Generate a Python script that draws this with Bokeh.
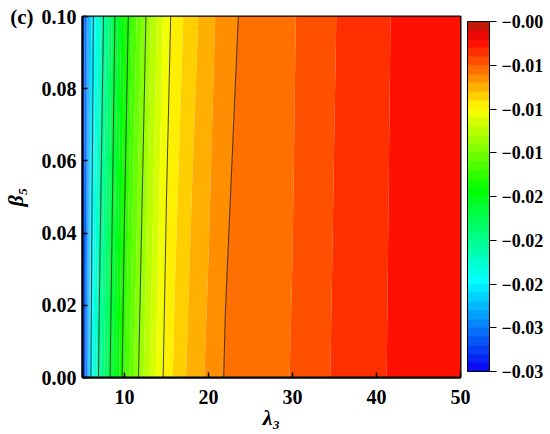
import numpy as np
from bokeh.plotting import figure
from bokeh.models import ColorBar, LinearColorMapper, FixedTicker, LinearAxis, Range1d
from bokeh.embed import file_html
from bokeh.resources import INLINE

# ---- data ----
lambda3 = [5.0, 5.5, 6.0, 6.5, 7.0, 7.5, 8.0, 9.0, 10.0, 11.0, 12.0, 13.0, 14.0, 15.0,
           16.0, 18.0, 20.0, 22.0, 24.0, 26.0, 28.0, 30.0, 33.0, 36.0, 40.0, 45.0, 50.0]
beta5 = [0.0, 0.1]
z_beta_0 = [-0.02860, -0.02664, -0.02300, -0.02132, -0.01992, -0.01894, -0.01796, -0.01600,
            -0.01404, -0.01264, -0.01138, -0.01040, -0.00942, -0.00872, -0.00816, -0.00732,
            -0.00676, -0.00614, -0.00598, -0.00581, -0.00564, -0.00547, -0.00500, -0.00460,
            -0.00418, -0.00385, -0.00354]
z_beta_01 = [-0.02776, -0.02636, -0.02384, -0.02244, -0.02132, -0.02020, -0.01908, -0.01712,
             -0.01530, -0.01376, -0.01250, -0.01124, -0.01026, -0.00928, -0.00872, -0.00788,
             -0.00718, -0.00648, -0.00612, -0.00592, -0.00572, -0.00556, -0.00511, -0.00469,
             -0.00421, -0.00388, -0.00362]
cbar_low, cbar_high = -0.030, -0.002
cbar_ticks = [-0.030, -0.0265, -0.023, -0.0195, -0.016, -0.0125, -0.009, -0.0055, -0.002]
cbar_labels = ["\u22120.03", "\u22120.03", "\u22120.02", "\u22120.02", "\u22120.02",
               "\u22120.01", "\u22120.01", "\u22120.01", "\u22120.00"]
x_ticks = [10, 20, 30, 40, 50]
y_ticks = [0.00, 0.02, 0.04, 0.06, 0.08, 0.10]
y_labels = ["0.00", "0.02", "0.04", "0.06", "0.08", "0.10"]
panel_tag = "(c)"

# ---- palette (Origin-like rainbow, 40 steps) ----
n_bands = 40
anchors = [(0.0, (10, 0, 245)), (0.26, (0, 255, 255)), (0.52, (0, 255, 0)),
           (0.75, (255, 255, 0)), (0.95, (255, 0, 0)), (1.0, (175, 35, 10))]
def col(f):
    for (f0, c0), (f1, c1) in zip(anchors[:-1], anchors[1:]):
        if f <= f1:
            t = (f - f0) / (f1 - f0)
            return "#%02x%02x%02x" % tuple(int(round(a + (b - a) * t)) for a, b in zip(c0, c1))
    return "#%02x%02x%02x" % anchors[-1][1]
palette = [col((i + 0.5) / n_bands) for i in range(n_bands)]
fill_levels = list(np.linspace(cbar_low, cbar_high, n_bands + 1))
line_levels = fill_levels[10:35:4]

FONT = "Liberation Serif"

p = figure(width=550, height=434, x_range=Range1d(5, 50), y_range=Range1d(0, 0.1),
           output_backend="svg", toolbar_location=None,
           min_border_left=82, min_border_right=90, min_border_top=16, min_border_bottom=57)
p.grid.visible = False
p.background_fill_color = "white"

z = np.array([z_beta_0, z_beta_01])
p.contour(lambda3, beta5, z, levels=fill_levels, fill_color=palette, line_color=None)
p.contour(lambda3, beta5, z, levels=line_levels, line_color="#151515", line_width=0.8)

p.outline_line_color = "black"
p.outline_line_width = 2
for ax in (p.xaxis[0], p.yaxis[0]):
    ax.axis_line_width = 2
    ax.major_tick_in = 5
    ax.major_tick_out = 0
    ax.minor_tick_line_color = None
    ax.major_tick_line_width = 1.5
    ax.major_label_text_font = FONT
    ax.major_label_text_font_style = "bold"
    ax.major_label_text_font_size = "20px"
    ax.major_label_text_color = "black"
    ax.axis_label_text_font = FONT
    ax.axis_label_text_font_style = "bold italic"
    ax.axis_label_text_font_size = "22px"
    ax.axis_label_text_color = "black"

p.xaxis.ticker = FixedTicker(ticks=x_ticks)
p.yaxis.ticker = FixedTicker(ticks=y_ticks)
p.yaxis.major_label_overrides = {t: l for t, l in zip(y_ticks, y_labels)}
p.xaxis.axis_label = "\u03bb\u2083"
p.xaxis.major_label_standoff = 12
p.xaxis.axis_label_standoff = -2
p.yaxis.major_label_standoff = 6

# outer left axis: carries the panel tag next to 0.10 and the y label
outer = LinearAxis(ticker=FixedTicker(ticks=[y_ticks[-1]]),
                   major_label_overrides={y_ticks[-1]: panel_tag},
                   axis_line_color=None, major_tick_line_color=None,
                   minor_tick_line_color=None, major_tick_in=0, major_tick_out=0,
                   major_label_standoff=5, major_label_text_font=FONT,
                   major_label_text_font_style="bold", major_label_text_font_size="21px",
                   major_label_text_color="black",
                   axis_label="\u03b2\u2085", axis_label_standoff=-21,
                   axis_label_text_font=FONT, axis_label_text_font_style="bold italic",
                   axis_label_text_font_size="22px", axis_label_text_color="black")
p.add_layout(outer, "left")

mapper = LinearColorMapper(palette=palette, low=cbar_low, high=cbar_high)
cb = ColorBar(color_mapper=mapper, ticker=FixedTicker(ticks=cbar_ticks),
              major_label_overrides={t: l for t, l in zip(cbar_ticks, cbar_labels)},
              width=22, height=350, padding=0, margin=0, location=(7, 6),
              major_tick_in=0, major_tick_out=7, major_tick_line_color="black",
              major_tick_line_width=1.2, minor_tick_line_color=None,
              bar_line_color="black", bar_line_width=1,
              label_standoff=5, border_line_color=None, background_fill_color=None,
              major_label_text_font=FONT, major_label_text_font_style="bold",
              major_label_text_font_size="18px", major_label_text_color="black")
p.add_layout(cb, "right")

open("out.html", "w").write(file_html(p, INLINE))
